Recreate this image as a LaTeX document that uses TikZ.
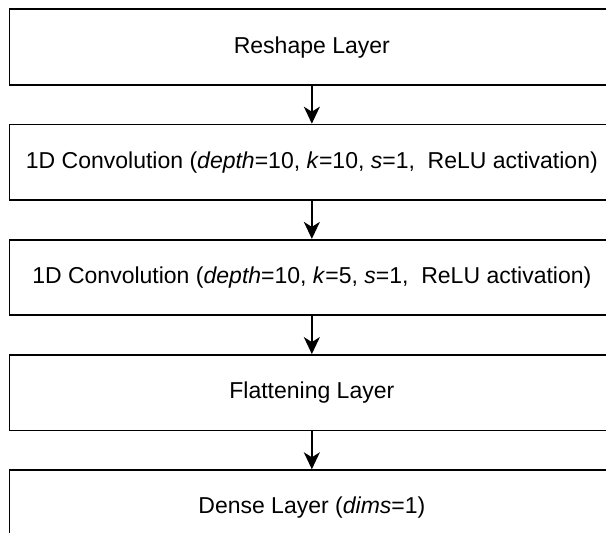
\documentclass[tikz,border=0pt]{standalone}
\usepackage{fontspec}
\setmainfont{Liberation Sans}
\usetikzlibrary{positioning,arrows.meta}

\tikzset{
  layer/.style={draw, line width=0.85pt, rectangle, minimum width=302.5pt,
    minimum height=37.75pt, inner sep=0pt, font=\fontsize{11.5pt}{14pt}\selectfont},
  flow/.style={line width=0.85pt, -{Stealth[length=8.5pt, width=8pt, inset=2.5pt]}}
}

\begin{document}
\begin{tikzpicture}[node distance=19pt]
      % Fix the page and cut off what runs past it
      \path[use as bounding box, clip] (0,0) rectangle (303pt,-266.5pt);

      % Draw the layers
      \node[layer, anchor=north west] (reshape) at (4.25pt,-4.25pt) {Reshape Layer};
      \node[layer, below=of reshape] (convA) {1D Convolution (\textit{depth}=10, \textit{k}=10, \textit{s}=1,~ ReLU activation)};
      \node[layer, below=of convA] (convB) {1D Convolution (\textit{depth}=10, \textit{k}=5, \textit{s}=1,~ ReLU activation)};
      \node[layer, below=of convB] (flatten) {Flattening Layer};
      \node[layer, below=of flatten] (dense) {Dense Layer (\textit{dims}=1)};

      % Draw arrows between layers
      \draw[flow] (reshape) -- (convA);
      \draw[flow] (convA) -- (convB);
      \draw[flow] (convB) -- (flatten);
      \draw[flow] (flatten) -- (dense);
  \end{tikzpicture}
\end{document}
